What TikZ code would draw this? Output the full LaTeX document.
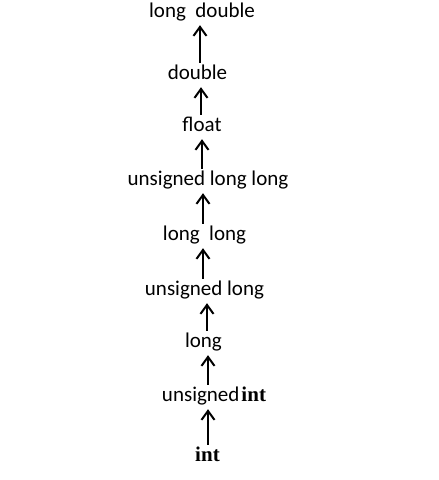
\documentclass[tikz,border=0pt]{standalone}
\usepackage{fontspec}
\setmainfont{Carlito}
\newfontfamily\kwfont{Liberation Serif}
\usetikzlibrary{arrows.meta}

\tikzset{
  typebox/.style={anchor=base, inner sep=0pt, text height=15pt, text depth=4pt,
    font=\fontsize{21}{25}\selectfont},
  promote/.style={-{Straight Barb[length=9pt,width=13pt]}, line width=2pt,
    shorten >=4pt, shorten <=1pt},
}
\newcommand{\kw}[1]{{\kwfont\bfseries #1}}

\begin{document}
\begin{tikzpicture}[x=1pt, y=-1pt]
\useasboundingbox (0,0) rectangle (439,480);

% conversion ladder, lowest rank at the bottom
\node[typebox] (ldouble) at (202,17)    {long\ \ double};
\node[typebox] (double)  at (197.5,79)  {double};
\node[typebox] (float)   at (202,131)   {float};
\node[typebox] (ull)     at (208,185)   {unsigned long long};
\node[typebox] (ll)      at (204.5,240) {long\ \ long};
\node[typebox] (ul)      at (204.5,295) {unsigned long};
\node[typebox] (long)    at (203.5,347) {long};
\node[typebox] (uint)    at (214,401)   {unsigned\hspace{2pt}\kw{int}};
\node[typebox] (int)     at (207.5,461) {\kw{int}};

% arrows
\foreach \lo/\up/\dx in {double/ldouble/2.5, float/double/-1, ull/float/-6,
    ll/ull/-1.5, ul/ll/-1.5, long/ul/3.5, uint/long/-6, int/uint/0.5}
  \draw[promote] ([xshift=\dx pt]\lo.north) -- ([xshift=\dx pt]\lo.north |- \up.south);
\end{tikzpicture}
\end{document}
